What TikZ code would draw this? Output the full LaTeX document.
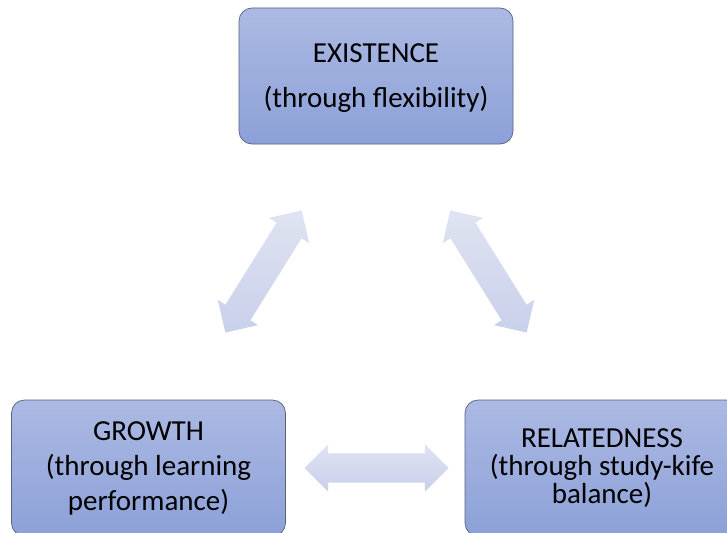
\documentclass[tikz,border=0pt]{standalone}
\usepackage{fontspec}
\setmainfont{Carlito}
\usetikzlibrary{shapes.arrows}

\definecolor{boxtop}{RGB}{172,185,227}
\definecolor{boxbot}{RGB}{140,161,216}
\definecolor{boxline}{RGB}{88,98,128}
\definecolor{arrtop}{RGB}{223,227,242}
\definecolor{arrbot}{RGB}{201,208,234}

\begin{document}
\begin{tikzpicture}[
  x=1pt, y=-1pt,
  need/.style={rectangle, rounded corners=13pt, draw=boxline, line width=0.7pt,
    top color=boxtop, bottom color=boxbot, align=center, inner sep=0pt,
    minimum width=274pt, minimum height=136pt, font=\fontsize{29}{35}\selectfont},
  dbl/.style={double arrow, draw=none, top color=arrtop, bottom color=arrbot,
    inner xsep=0pt, inner ysep=14.5pt, minimum height=144pt, font=\tiny,
    double arrow head extend=9pt, double arrow head indent=0pt},
]
\useasboundingbox[fill=white] (0,0) rectangle (727,532);
\clip (0,0) rectangle (727,532);

% ====== The three needs ======
\node[need, text height=68pt] (exist) at (376,76)
  {EXISTENCE\\[10pt](through flexibility)};
\node[need] (growth) at (148.5,468)
  {GROWTH\\(through learning\\performance)};
\node[need, font=\fontsize{29}{28}\selectfont] (relate) at (602,468)
  {RELATEDNESS\\(through study-kife\\balance)};

% ====== Two-way links ======
\node[dbl, rotate=58] (eg) at (263.5,271.5) {};
\node[dbl, rotate=-58] (er) at (488.5,271.5) {};
\node[dbl] (gr) at (376.5,468) {};

\end{tikzpicture}
\end{document}
